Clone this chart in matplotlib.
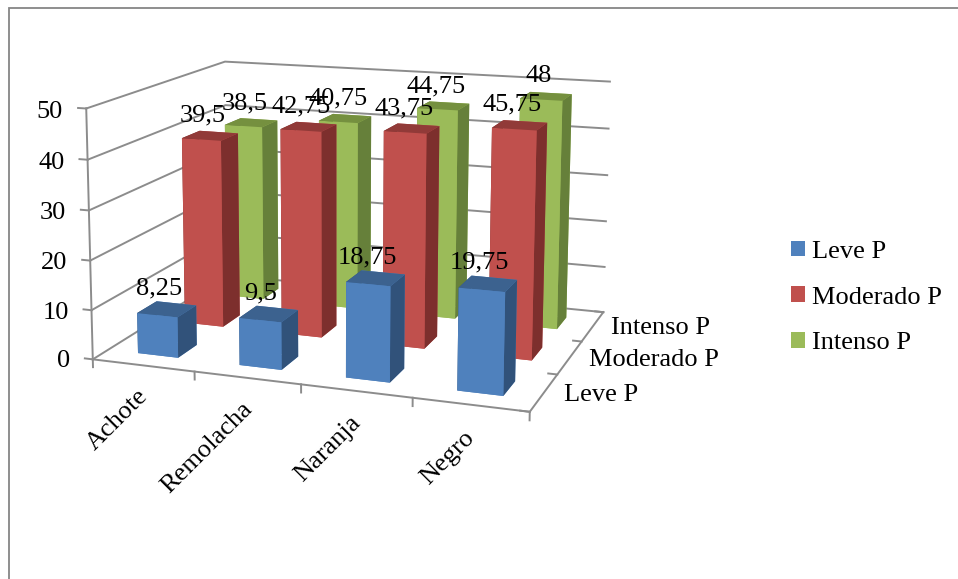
import numpy as np
import matplotlib
matplotlib.use("Agg")
import matplotlib.pyplot as plt
from matplotlib.patches import Patch, Rectangle
from mpl_toolkits.mplot3d import proj3d

plt.rcParams["font.family"] = ["Liberation Serif", "DejaVu Serif"]

categories = ["Achote", "Remolacha", "Naranja", "Negro"]
series_names = ["Leve P", "Moderado P", "Intenso P"]
leve = [8.25, 9.5, 18.75, 19.75]
moderado = [39.5, 42.75, 43.75, 45.75]
intenso = [38.5, 40.75, 44.75, 48]
value_ticks = [0, 10, 20, 30, 40, 50]

# face colours per series: front, top, right side
front = ["#4F81BD", "#C0504D", "#9BBB59"]
top = ["#3C628F", "#913A38", "#75903F"]
side = ["#31527A", "#7D2F2D", "#66803A"]
GRID = "#8C8C8C"
FS = 19
W, H = 958, 579

# chart-box landmarks used to calibrate the camera: (category, row, value) -> pixel
box_points = [
    (0, 0, 0, 95, 357), (4, 0, 0, 528, 414), (4, 3, 0, 606, 308), (0, 3, 0, 224, 279),
    (0, 0, 50, 84, 108), (0, 3, 50, 227, 61), (4, 3, 50, 610, 83),
    (0, 0, 10, 93, 309), (0, 0, 20, 91, 259), (0, 0, 30, 89, 209), (0, 0, 40, 87, 160),
    (4, 3, 10, 603, 267), (4, 3, 20, 605, 222), (4, 3, 30, 607, 176), (4, 3, 40, 609, 129),
    (1, 0, 0, 195, 373), (2, 0, 0, 301, 387), (3, 0, 0, 411, 401),
    (4, 1, 0, 558, 373), (4, 2, 0, 583, 338),
]


def fit_projection(points):
    """Least-squares 3x4 projective camera taking data coordinates to pixels."""
    rows, rhs = [], []
    for x, y, z, u, v in points:
        rows.append([x, y, z, 1, 0, 0, 0, 0, -u * x, -u * y, -u * z])
        rows.append([0, 0, 0, 0, x, y, z, 1, -v * x, -v * y, -v * z])
        rhs += [u, v]
    p = np.linalg.lstsq(np.array(rows, float), np.array(rhs, float), rcond=None)[0]
    return np.append(p, 1.0).reshape(3, 4)


fig = plt.figure(figsize=(W / 100, H / 100), dpi=100)
fig.patches.append(Rectangle((9 / W, -0.02), 1.2, 1 - 8 / H + 0.02, transform=fig.transFigure,
                             fill=False, edgecolor="#868686", linewidth=1.3))

# a square axes wider than the canvas, so nothing in the box gets clipped
ax = fig.add_axes([0, (H - W) / 2 / H, 1, W / H], projection="3d")
ax.patch.set_alpha(0)
ax.set_axis_off()
ax.computed_zorder = False
ax.set_xlim(0, 4)
ax.set_ylim(0, 3)
ax.set_zlim(0, 50)
ax.set_proj_type("ortho")  # no near-plane culling; the fitted camera below does the projecting
ax.apply_aspect()

# pixel camera, expressed in the axes' own 2D coordinates; the third row only orders faces
camera = fit_projection(box_points)
to_view = ax.transData.inverted().get_matrix() @ np.array([[1, 0, 0], [0, -1, H], [0, 0, 1.0]])
view = to_view @ camera
M = np.vstack([view[0], view[1], [-0.3, 1, -0.02, 0], view[2]])
ax.get_proj = lambda: M
ax.M = M
ax.invM = np.linalg.inv(M)


def line(xs, ys, zs, lw=1.4):
    ax.plot(xs, ys, zs, color=GRID, lw=lw, zorder=1)


def label(x, y, z, text, **kwargs):
    # place a label at a 3D data position, projected onto the canvas
    px, py, _ = proj3d.proj_transform(x, y, z, M)
    ax.text2D(px, py, text, transform=ax.transData, fontsize=FS, zorder=100, **kwargs)


# walls and floor outline
for z in value_ticks:
    line([0, 0, 4], [0, 3, 3], [z, z, z])
    line([-0.08, 0], [0, 0], [z, z])
line([0, 0], [0, 0], [0, 50])
line([0, 4, 4], [0, 0, 3], [0, 0, 0])
for i in range(5):
    line([i, i], [0, 0], [0, -1.6])
for j in range(4):
    line([4, 3.92], [j, j], [0, 0])

# columns, painted from the back row forward
rows = [leve, moderado, intenso]
width = 0.4
pad = (1 - width) / 2
order = 10
for j in reversed(range(3)):
    for i, v in enumerate(rows[j]):
        faces = [front[j], top[j], front[j], front[j], side[j], side[j]]
        ax.bar3d(i + pad, j + pad, 0, width, width, v, color=faces, shade=False,
                 edgecolor="none", zorder=order)
        order += 1

# value labels
for j in range(3):
    for i, v in enumerate(rows[j]):
        label(i + 0.425, j + 0.5, v + 1.8, f"{v:g}".replace(".", ","), ha="center", va="bottom")

# axis labels
for z in value_ticks:
    label(-0.23, 0, z - 1, str(z), ha="right", va="center")
for i, name in enumerate(categories):
    label(i + 0.51, 0, -5.6, name, rotation=45, rotation_mode="anchor", ha="right", va="center")
for j, name in enumerate(series_names):
    label(4.17, j + 0.5, 0, name, ha="left", va="center")

handles = [Patch(facecolor=c, edgecolor="none") for c in front]
fig.legend(handles, series_names, loc="center left", bbox_to_anchor=(767 / W, 1 - 297.5 / H),
           frameon=False, fontsize=FS, handlelength=0.55, handleheight=0.55,
           handletextpad=0.25, labelspacing=0.89)

fig.savefig("out.png", dpi=100)
